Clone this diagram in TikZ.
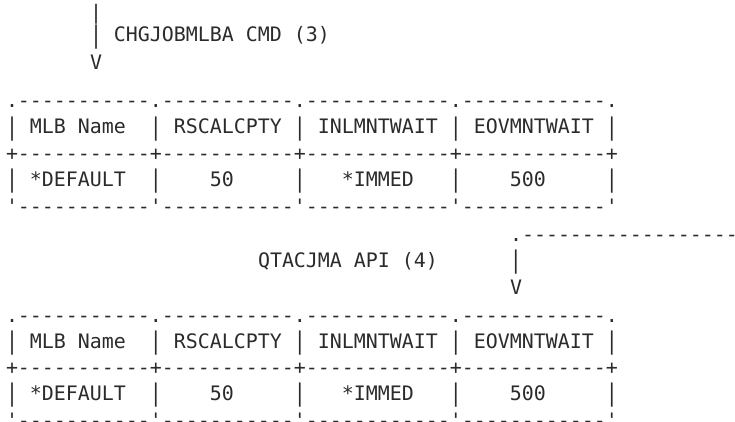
\documentclass[tikz,border=0pt]{standalone}
\usepackage{fontspec}
\usepackage{graphicx}
\setmonofont{DejaVu Sans Mono}
\definecolor{ink}{HTML}{2B2B2B}
\newcommand\vb{\raisebox{-1.2pt}{\scalebox{1}[1.22]{|}}}
\tikzset{
  ln/.style={anchor=base west, inner sep=0pt, outer sep=0pt,
    font=\ttfamily\fontsize{19.93}{24}\selectfont, text=ink}
}
\begin{document}
\begin{tikzpicture}[x=1pt,y=1pt]
\clip (0,0) rectangle (735,-422);
% top arrow into first table
\node[ln] (l0)  at (90,-19.8)  {|};
\node[ln] (l1)  at (90,-42.0)  {\vb~CHGJOBMLBA~CMD~(3)};
\node[ln] (l2)  at (90,-70.0)  {V};
% first table
\node[ln] (l3)  at (6,-107.3) {.-----------.-----------.------------.------------.};
\node[ln] (l4)  at (6,-134.0) {\vb~MLB~Name~~\vb~RSCALCPTY~\vb~INLMNTWAIT~\vb~EOVMNTWAIT~\vb};
\node[ln] (l5)  at (6,-160.2) {+-----------+-----------+------------+------------+};
\node[ln] (l6)  at (6,-186.4) {\vb~*DEFAULT~~\vb~~~~50~~~~~\vb~~~*IMMED~~~\vb~~~~500~~~~~\vb};
\node[ln] (l7)  at (6,-213.0) {'-----------'-----------'------------'------------'};
% arrow into second table
\node[ln] (l8)  at (510,-241.5) {.------------------};
\node[ln] (l9)  at (258,-267.5) {QTACJMA~API~(4)~~~~~~\vb};
\node[ln] (l10) at (510,-294.2) {V};
% second table
\node[ln] (l11) at (6,-322.0) {.-----------.-----------.------------.------------.};
\node[ln] (l12) at (6,-348.6) {\vb~MLB~Name~~\vb~RSCALCPTY~\vb~INLMNTWAIT~\vb~EOVMNTWAIT~\vb};
\node[ln] (l13) at (6,-374.8) {+-----------+-----------+------------+------------+};
\node[ln] (l14) at (6,-400.6) {\vb~*DEFAULT~~\vb~~~~50~~~~~\vb~~~*IMMED~~~\vb~~~~500~~~~~\vb};
\node[ln] (l15) at (6,-427.0) {'-----------'-----------'------------'------------'};
\end{tikzpicture}
\end{document}
